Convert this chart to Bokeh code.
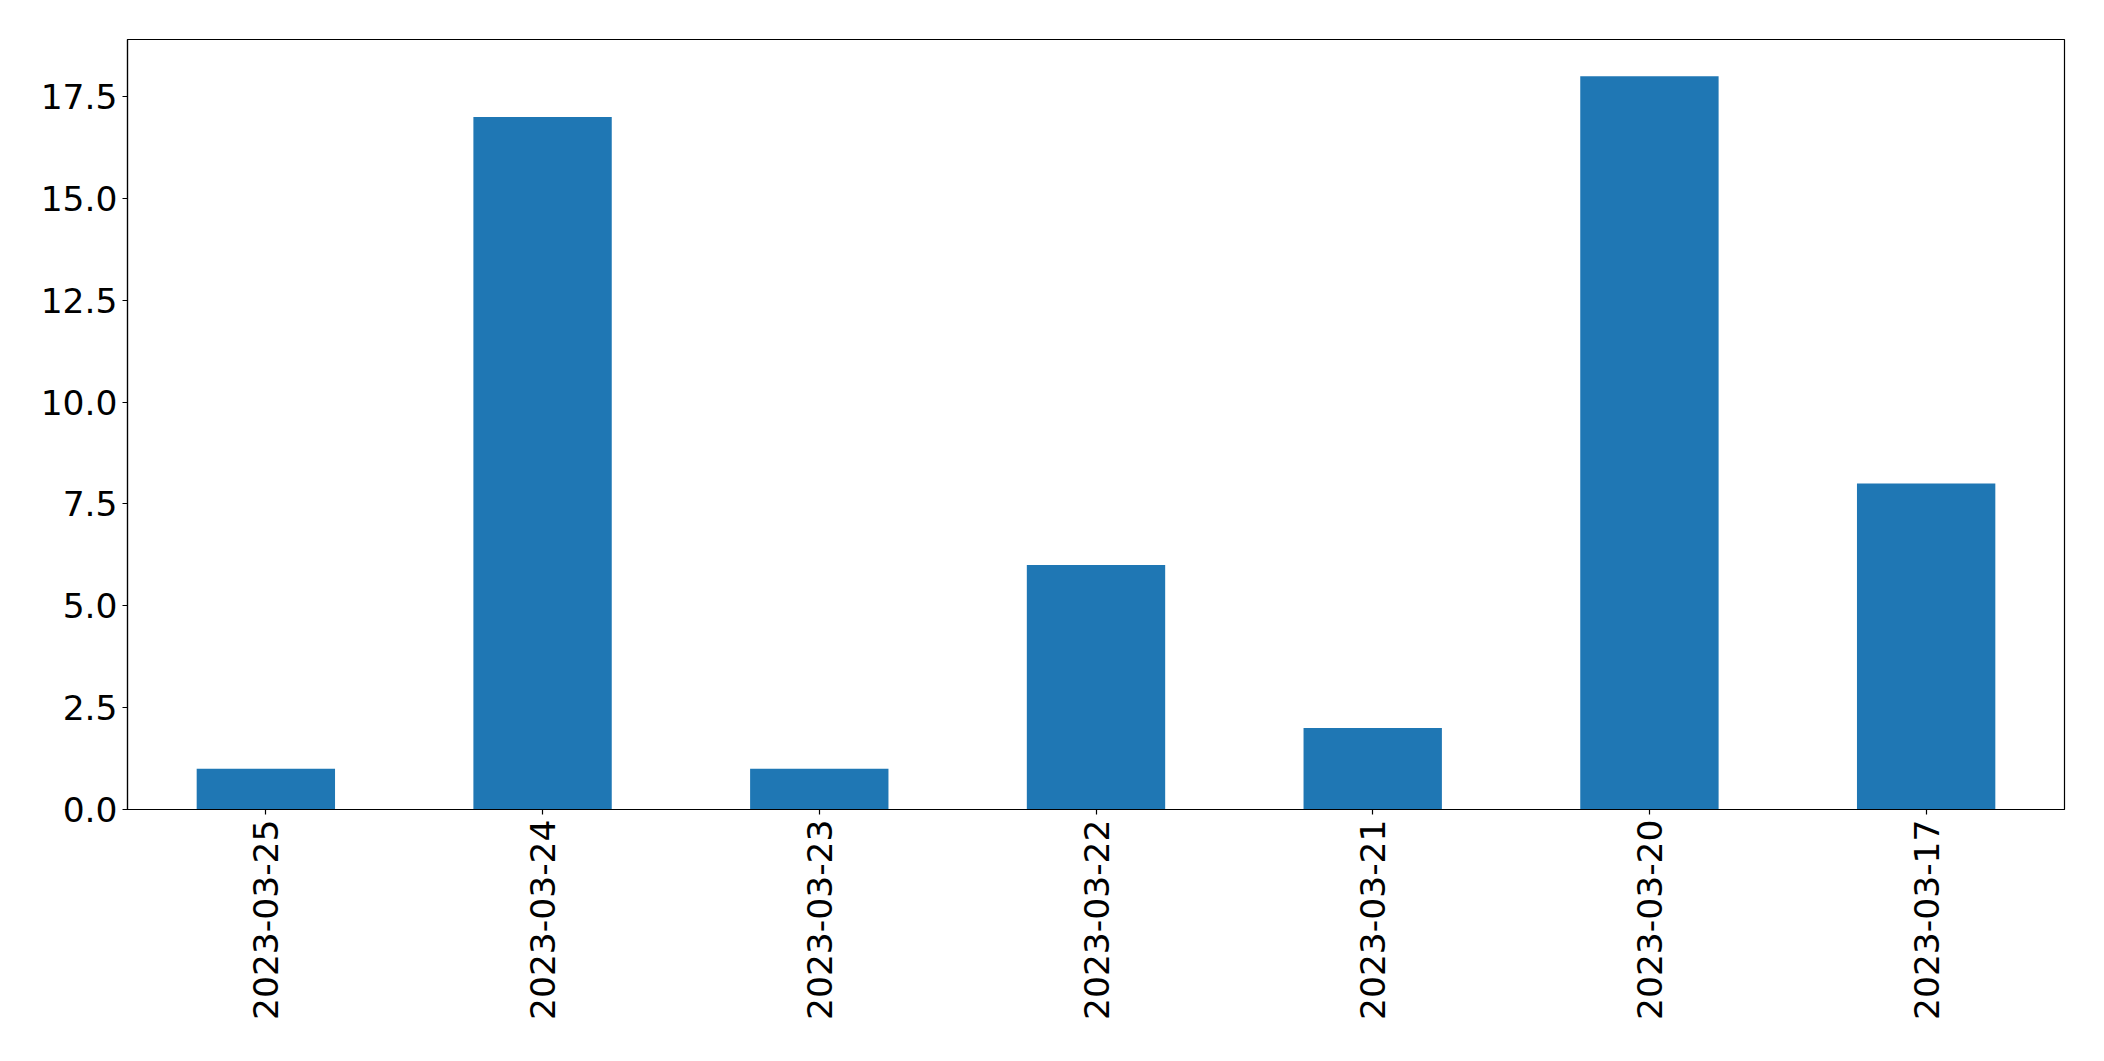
import math
from bokeh.plotting import figure
from bokeh.models import FactorRange, Range1d, FixedTicker, PrintfTickFormatter, ColumnDataSource
from bokeh.embed import file_html
from bokeh.resources import INLINE

dates = ["2023-03-25", "2023-03-24", "2023-03-23", "2023-03-22",
         "2023-03-21", "2023-03-20", "2023-03-17"]
counts = [1, 17, 1, 6, 2, 18, 8]
y_ticks = [0.0, 2.5, 5.0, 7.5, 10.0, 12.5, 15.0, 17.5]

W, H = 2088, 1045
p = figure(width=W, height=H, x_range=FactorRange(*dates, range_padding=0),
           y_range=Range1d(0, max(counts) * 1.05),
           output_backend="svg", toolbar_location=None)
p.min_border_left = 127
p.min_border_top = 39
p.min_border_right = 24
p.min_border_bottom = 236

src = ColumnDataSource(dict(d=dates, c=counts))
p.vbar(x="d", top="c", width=0.5, source=src, fill_color="#1f77b4", line_color=None)

p.xgrid.visible = False
p.ygrid.visible = False
p.outline_line_color = "black"
p.outline_line_width = 1.2
p.background_fill_color = "white"
p.border_fill_color = "white"

for ax in (p.xaxis[0], p.yaxis[0]):
    ax.major_label_text_font = "DejaVu Sans"
    ax.major_label_text_font_size = "34.5px"
    ax.major_label_text_color = "black"
    ax.major_tick_in = 0
    ax.major_tick_out = 5
    ax.major_tick_line_color = "black"
    ax.major_tick_line_width = 1.2
    ax.minor_tick_line_color = None
    ax.axis_line_color = "black"
    ax.axis_line_width = 1.2
    ax.major_label_standoff = 5

p.yaxis[0].ticker = FixedTicker(ticks=y_ticks)
p.yaxis[0].formatter = PrintfTickFormatter(format="%.1f")
p.xaxis[0].major_label_orientation = math.pi / 2
p.xaxis[0].group_text_font_size = "0px"

open("out.html", "w").write(file_html(p, INLINE))
